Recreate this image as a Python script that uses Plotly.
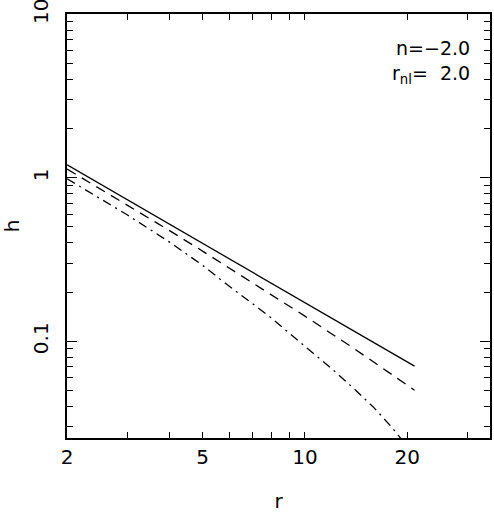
import math
import plotly.graph_objects as go

# data (log-log)
r_solid = [2, 3, 4, 5, 7, 10, 14, 18, 21]
h_solid = [1.20, 0.736, 0.520, 0.397, 0.265, 0.172, 0.115, 0.0848, 0.0704]

r_dash = [2, 3, 4, 5, 6.02, 7, 10, 14, 18, 21]
h_dash = [1.13, 0.684, 0.475, 0.356, 0.279, 0.229, 0.1425, 0.0897, 0.0628, 0.0502]

r_dashdot = [2, 3, 4, 5, 5.7, 7, 8, 10, 12, 14, 16, 18, 20, 21]
h_dashdot = [0.986, 0.594, 0.404, 0.292, 0.235, 0.171, 0.138, 0.093, 0.0678,
             0.0509, 0.039, 0.0298, 0.0226, 0.020]

x_major_vals = [2, 5, 10, 20]
x_major_text = ["2", "5", "10", "20"]
x_minor_vals = [3, 4, 6, 7, 8, 9, 30]
x_long_vals = [10]

y_major_vals = [0.1, 1, 10]
y_major_text = ["0.1", "1", "10"]
y_minor_vals = [0.03, 0.04, 0.05, 0.06, 0.07, 0.08, 0.09,
                0.2, 0.3, 0.4, 0.5, 0.6, 0.7, 0.8, 0.9,
                2, 3, 4, 5, 6, 7, 8, 9]

label_text = "n=\u22122.0<br>r<sub>nl</sub>=\u00a0\u00a02.0"

x_range = [math.log10(1.998), math.log10(35.0)]
y_range = [math.log10(0.0256), math.log10(10.04)]

FONT = "DejaVu Sans, Liberation Sans, Arial, sans-serif"
LW = 1.3

fig = go.Figure()
fig.add_trace(go.Scatter(x=r_solid, y=h_solid, mode="lines",
                         line=dict(color="black", width=LW, dash="solid")))
fig.add_trace(go.Scatter(x=r_dash, y=h_dash, mode="lines",
                         line=dict(color="black", width=LW, dash="10px,7px")))
fig.add_trace(go.Scatter(x=r_dashdot, y=h_dashdot, mode="lines",
                         line=dict(color="black", width=LW, dash="9px,5px,2px,5px")))

fig.update_layout(
    width=494, height=513,
    margin=dict(l=67, r=4, t=14, b=75, autoexpand=False),
    paper_bgcolor="white", plot_bgcolor="white",
    showlegend=False,
    font=dict(family=FONT, color="black", size=20),
    xaxis=dict(
        type="log", range=x_range, automargin=False,
        tickmode="array", tickvals=x_major_vals, ticktext=x_major_text,
        ticks="inside", ticklen=6, tickwidth=1.2, tickcolor="black",
        showline=True, linecolor="black", linewidth=1.5, mirror="ticks",
        showgrid=False, zeroline=False, ticklabeloverflow="allow",
        tickfont=dict(size=20, family=FONT),
        minor=dict(tickmode="array", tickvals=x_minor_vals, ticks="inside",
                   ticklen=6, tickwidth=1.2, tickcolor="black", showgrid=False),
        title=dict(text="r", font=dict(size=20, family=FONT), standoff=34),
    ),
    xaxis2=dict(
        type="log", range=x_range, overlaying="x", anchor="y", side="bottom",
        automargin=False,
        tickmode="array", tickvals=x_long_vals, showticklabels=False,
        ticks="inside", ticklen=11, tickwidth=1.2, tickcolor="black",
        showline=False, mirror="ticks", showgrid=False, zeroline=False,
    ),
    yaxis=dict(
        type="log", range=y_range, automargin=False,
        tickmode="array", tickvals=y_major_vals, ticktext=y_major_text,
        ticks="inside", ticklen=10, tickwidth=1.2, tickcolor="black",
        showline=True, linecolor="black", linewidth=1.5, mirror="ticks",
        showgrid=False, zeroline=False, tickangle=-90, ticklabeloverflow="allow",
        ticklabelstandoff=9,
        tickfont=dict(size=20, family=FONT),
        minor=dict(tickmode="array", tickvals=y_minor_vals, ticks="inside",
                   ticklen=6, tickwidth=1.2, tickcolor="black", showgrid=False),
        title=dict(text="h", font=dict(size=20, family=FONT), standoff=16),
    ),
)

fig.add_annotation(text=label_text, xref="paper", yref="paper",
                   x=0.957, y=0.950, xanchor="right", yanchor="top", align="right",
                   showarrow=False, font=dict(size=19, family=FONT))

fig.write_html("out.html", config={"displayModeBar": False},
               post_script="document.body.style.margin='0';")
